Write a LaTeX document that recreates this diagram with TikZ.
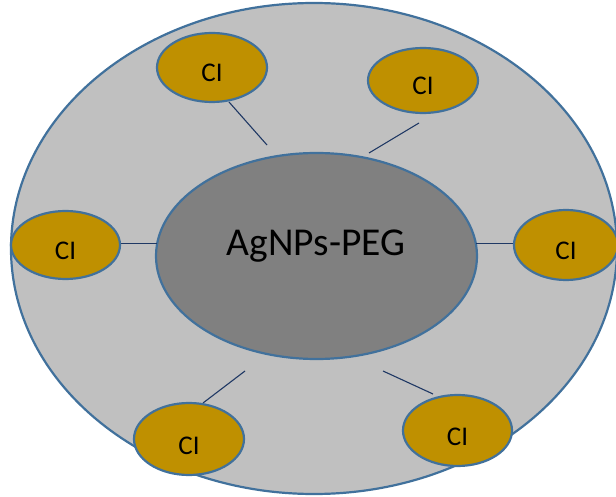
\documentclass[tikz,border=0pt]{standalone}
\usepackage{fontspec}
\setmainfont{Carlito}
\usetikzlibrary{shapes.geometric}
\definecolor{bordc}{HTML}{41719C}
\definecolor{outerc}{HTML}{C0C0C0}
\definecolor{innerc}{HTML}{808080}
\definecolor{cic}{HTML}{BF9000}
\definecolor{linkc}{HTML}{1F3864}
\tikzset{
  blob/.style={ellipse, draw=bordc, line width=2.2pt, inner sep=0pt},
  outerblob/.style={blob, fill=outerc, minimum width=606pt, minimum height=491pt},
  innerblob/.style={blob, fill=innerc, minimum width=321pt, minimum height=206pt},
  ciblob/.style={blob, fill=cic},
  citext/.style={font=\fontsize{27pt}{30pt}\selectfont, anchor=base, inner sep=0pt},
  maintext/.style={font=\fontsize{39.5pt}{44pt}\selectfont, anchor=base, inner sep=0pt},
  link/.style={draw=linkc, line width=1.1pt}
}
\begin{document}
\begin{tikzpicture}[x=1pt,y=-1pt]
\useasboundingbox (0,0) rectangle (616,497);
\clip (0,0) rectangle (616,497);
\node[outerblob] (outer) at (314,248.5) {};
\node[innerblob] (core) at (316.5,256) {};
\node[maintext] (coretext) at (316,255.5) {AgNPs-PEG};
% connector end points
\coordinate (e1) at (267,145);
\coordinate (e2) at (369,153);
\coordinate (e3) at (157,243.5);
\coordinate (e4) at (476,243.5);
\coordinate (e5) at (245,371);
\coordinate (e6) at (383,371);
\coordinate (s1) at (229,102);
\coordinate (s2) at (419,123);
\coordinate (s3) at (120,243.5);
\coordinate (s4) at (514,243.5);
\coordinate (s5) at (203,403);
\coordinate (s6) at (433,394);
\path[link] (s1) -- (e1);
\path[link] (s2) -- (e2);
\path[link] (s3) -- (e3);
\path[link] (e4) -- (s4);
\path[link] (s5) -- (e5);
\path[link] (s6) -- (e6);
% CI ellipses
\node[ciblob, minimum width=110pt, minimum height=69pt] (c1) at (212,67.5) {};
\node[ciblob, minimum width=110pt, minimum height=65pt] (c2) at (423,80.5) {};
\node[ciblob, minimum width=109pt, minimum height=68pt] (c3) at (65.5,245) {};
\node[ciblob, minimum width=104pt, minimum height=70pt] (c4) at (566,245) {};
\node[ciblob, minimum width=110pt, minimum height=72pt] (c5) at (189,439) {};
\node[ciblob, minimum width=109pt, minimum height=71pt] (c6) at (457.5,430.5) {};
\node[citext] (t1) at ([yshift=-14.5pt]c1.center) {CI};
\node[citext] (t2) at ([yshift=-14.5pt]c2.center) {CI};
\node[citext] (t3) at ([yshift=-15pt]c3.center) {CI};
\node[citext] (t4) at ([yshift=-15pt]c4.center) {CI};
\node[citext] (t5) at ([yshift=-15pt]c5.center) {CI};
\node[citext] (t6) at ([yshift=-14.5pt]c6.center) {CI};
\end{tikzpicture}
\end{document}
